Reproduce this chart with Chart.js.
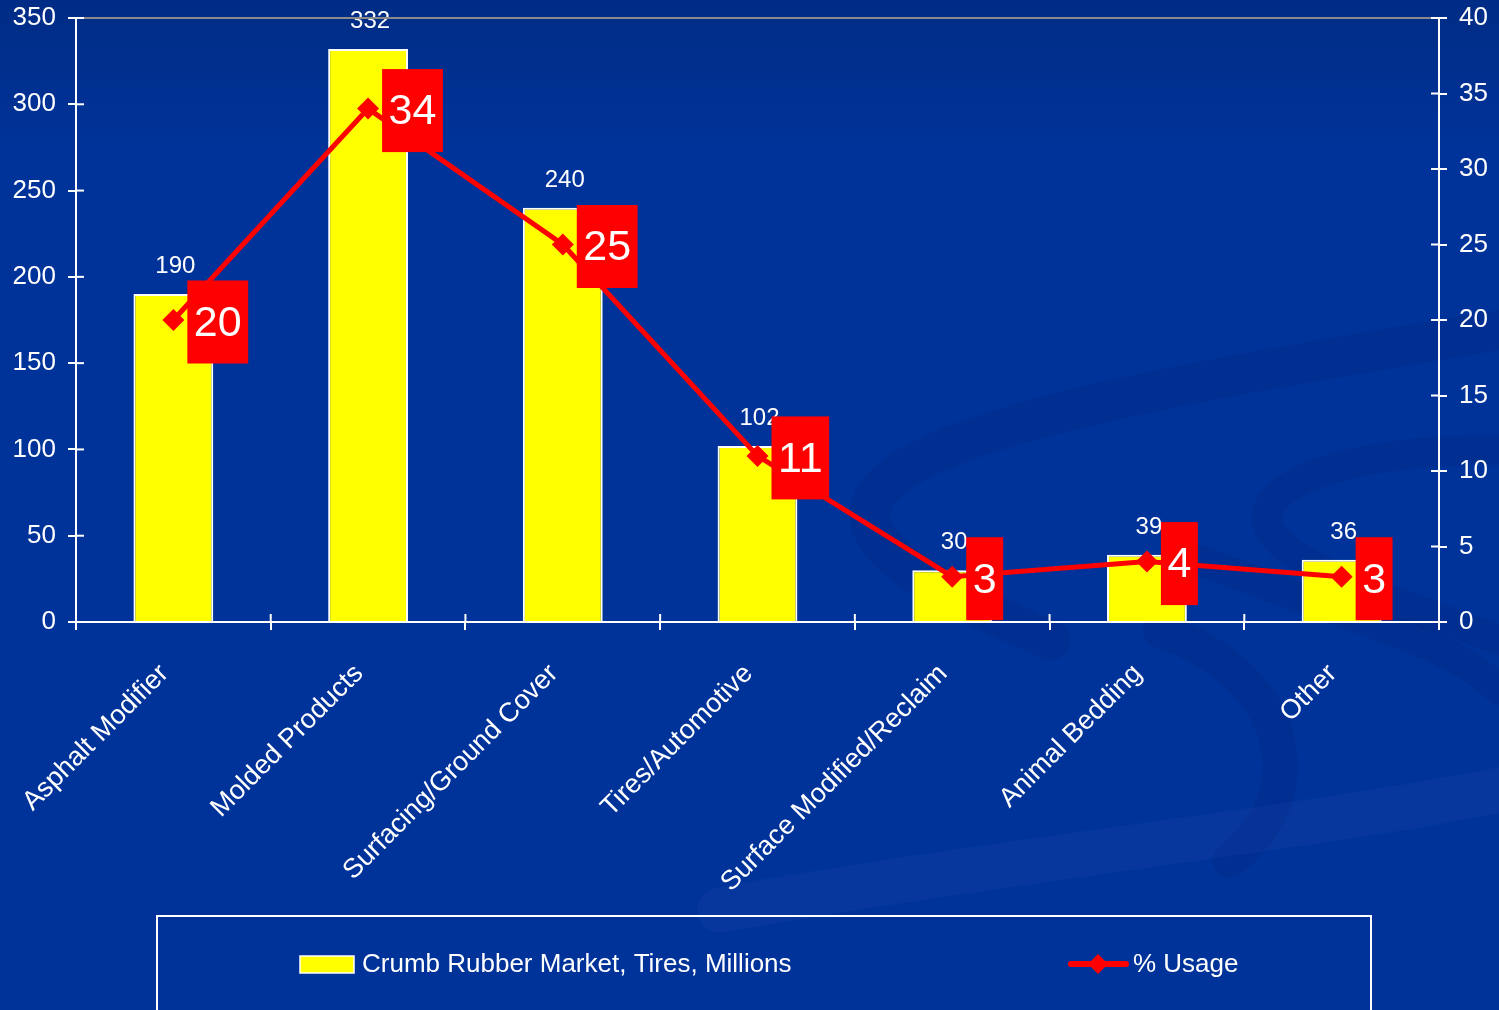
<!DOCTYPE html>
<html>
<head>
<meta charset="utf-8">
<script src="https://cdn.jsdelivr.net/npm/chart.js@4"></script>
<style>
  html, body { margin: 0; padding: 0; background: #003399; }
  #wrap { width: 1499px; height: 1010px; position: relative; }
</style>
</head>
<body>
<div id="wrap"><canvas id="c" width="1499" height="1010"></canvas></div>
<script>
const categories = ["Asphalt Modifier", "Molded Products", "Surfacing/Ground Cover", "Tires/Automotive", "Surface Modified/Reclaim", "Animal Bedding", "Other"];
const marketValues = [190, 332, 240, 102, 30, 39, 36];
const usageValues = [20, 34, 25, 11, 3, 4, 3];
const marketLabel = "Crumb Rubber Market, Tires, Millions";
const usageLabel = "% Usage";
const leftMax = 350, leftStep = 50;
const rightMax = 40, rightStep = 5;

const FONT = "'Liberation Sans', Arial, sans-serif";

const bgPlugin = {
  id: 'bg',
  beforeDraw(chart) {
    const ctx = chart.ctx, W = chart.width, H = chart.height;
    ctx.save();
    const g = ctx.createLinearGradient(0, 0, 0, H);
    g.addColorStop(0, '#002c85');
    g.addColorStop(0.15, '#003399');
    g.addColorStop(1, '#003399');
    ctx.fillStyle = g;
    ctx.fillRect(0, 0, W, H);
    ctx.lineCap = 'round';
    const dark = 'rgba(0,30,120,0.22)';
    const light = 'rgba(40,80,175,0.18)';
    ctx.strokeStyle = dark; ctx.lineWidth = 40;
    ctx.beginPath();
    ctx.moveTo(1499, 330);
    ctx.bezierCurveTo(1200, 380, 880, 430, 870, 510);
    ctx.bezierCurveTo(865, 560, 960, 600, 1050, 640);
    ctx.stroke();
    ctx.lineWidth = 30;
    ctx.beginPath();
    ctx.moveTo(1499, 450);
    ctx.bezierCurveTo(1330, 450, 1250, 490, 1270, 530);
    ctx.bezierCurveTo(1290, 570, 1420, 610, 1499, 640);
    ctx.stroke();
    ctx.lineWidth = 35;
    ctx.beginPath();
    ctx.moveTo(1160, 630);
    ctx.bezierCurveTo(1300, 680, 1310, 800, 1230, 860);
    ctx.stroke();
    ctx.strokeStyle = light; ctx.lineWidth = 45;
    ctx.beginPath();
    ctx.moveTo(720, 910);
    ctx.bezierCurveTo(1000, 860, 1300, 830, 1499, 790);
    ctx.stroke();
    ctx.strokeStyle = dark; ctx.lineWidth = 30;
    ctx.beginPath();
    ctx.moveTo(1200, 560);
    ctx.bezierCurveTo(1350, 620, 1450, 640, 1499, 690);
    ctx.stroke();
    ctx.restore();
  }
};

const decorPlugin = {
  id: 'decor',
  afterDraw(chart) {
    const ctx = chart.ctx;
    const { left, right, top, bottom } = chart.chartArea;
    ctx.save();
    ctx.strokeStyle = '#8a8a8a'; ctx.lineWidth = 2;
    ctx.beginPath(); ctx.moveTo(left + 8, top); ctx.lineTo(right - 8, top); ctx.stroke();
    ctx.strokeStyle = '#ffffff'; ctx.lineWidth = 2;
    const y = chart.scales.y, y2 = chart.scales.y2, x = chart.scales.x;
    y.ticks.forEach((t, i) => { const p = y.getPixelForTick(i); ctx.beginPath(); ctx.moveTo(left, p); ctx.lineTo(left + 8, p); ctx.stroke(); });
    y2.ticks.forEach((t, i) => { const p = y2.getPixelForTick(i); ctx.beginPath(); ctx.moveTo(right - 8, p); ctx.lineTo(right, p); ctx.stroke(); });
    const n = x.ticks.length;
    for (let i = 0; i <= n; i++) {
      const p = left + i * (right - left) / n;
      ctx.beginPath(); ctx.moveTo(p, bottom); ctx.lineTo(p, bottom - 8); ctx.stroke();
    }
    const ds = chart.data.datasets;
    const barDs = ds.find(d => d.type === 'bar');
    const lineDs = ds.find(d => d.type === 'line');
    ctx.strokeStyle = '#ffffff'; ctx.lineWidth = 2;
    ctx.strokeRect(157, 916, 1214, 140);
    ctx.font = '26px ' + FONT;
    ctx.textBaseline = 'middle'; ctx.textAlign = 'left';
    ctx.fillStyle = barDs.backgroundColor;
    ctx.fillRect(300, 956, 54, 17);
    ctx.strokeStyle = '#ffffff'; ctx.lineWidth = 1.5;
    ctx.strokeRect(300, 956, 54, 17);
    ctx.fillStyle = '#ffffff';
    ctx.fillText(barDs.label, 362, 965);
    ctx.strokeStyle = lineDs.borderColor; ctx.lineWidth = 6; ctx.lineCap = 'round';
    ctx.beginPath(); ctx.moveTo(1071, 964); ctx.lineTo(1126, 964); ctx.stroke();
    ctx.fillStyle = lineDs.borderColor;
    ctx.beginPath(); ctx.moveTo(1098, 954); ctx.lineTo(1108, 964); ctx.lineTo(1098, 974); ctx.lineTo(1088, 964); ctx.closePath(); ctx.fill();
    ctx.fillStyle = '#ffffff';
    ctx.fillText(lineDs.label, 1133, 965);
    ctx.restore();
  }
};

const labelPlugin = {
  id: 'labels',
  afterDatasetsDraw(chart) {
    const ctx = chart.ctx;
    ctx.save();
    chart.data.datasets.forEach((d, di) => {
      const meta = chart.getDatasetMeta(di);
      if (d.type === 'bar') {
        ctx.font = '24px ' + FONT;
        ctx.fillStyle = '#ffffff';
        ctx.textAlign = 'center'; ctx.textBaseline = 'alphabetic';
        meta.data.forEach((el, i) => {
          ctx.fillText(String(d.data[i]), el.x + 2, el.y - 21);
        });
      }
    });
    chart.data.datasets.forEach((d, di) => {
      const meta = chart.getDatasetMeta(di);
      if (d.type === 'line') {
        ctx.font = '43px ' + FONT;
        ctx.textAlign = 'center'; ctx.textBaseline = 'middle';
        meta.data.forEach((el, i) => {
          const txt = String(d.data[i]);
          const w = ctx.measureText(txt).width + 13;
          const h = 83;
          const bx = el.x + 14, by = el.y + 2 - h / 2;
          ctx.fillStyle = '#ff0000';
          ctx.fillRect(bx, by, w, h);
          ctx.fillStyle = '#ffffff';
          ctx.fillText(txt, bx + w / 2, el.y + 4);
        });
      }
    });
    ctx.restore();
  }
};

function noPad(s) { s.paddingTop = 0; s.paddingBottom = 0; s.paddingLeft = 0; s.paddingRight = 0; }

new Chart(document.getElementById('c'), {
  data: {
    labels: categories,
    datasets: [
      {
        type: 'line', label: usageLabel, data: usageValues, yAxisID: 'y2', order: 0,
        borderColor: '#ff0000', backgroundColor: '#ff0000', borderWidth: 5,
        pointStyle: 'rectRot', pointRadius: 11, pointBackgroundColor: '#ff0000', pointBorderWidth: 0,
        tension: 0
      },
      {
        type: 'bar', label: marketLabel, data: marketValues, yAxisID: 'y', order: 1,
        backgroundColor: '#ffff00', borderColor: '#ffffff', borderWidth: 2,
        barPercentage: 0.41, categoryPercentage: 1
      }
    ]
  },
  options: {
    responsive: false, animation: false,
    layout: { padding: { top: 18, left: 0, right: 0, bottom: 0 } },
    plugins: { legend: { display: false }, tooltip: { enabled: false } },
    scales: {
      x: {
        offset: true,
        grid: { display: true, drawOnChartArea: false, color: '#ffffff', lineWidth: 2, tickLength: 8, offset: true },
        border: { display: true, color: '#ffffff', width: 2 },
        ticks: { color: '#ffffff', font: { family: FONT, size: 27 }, maxRotation: 45, minRotation: 45, padding: 28, labelOffset: -9, autoSkip: false },
        afterFit(s) { s.height = 388; noPad(s); }
      },
      y: {
        position: 'left', min: 0, max: leftMax,
        grid: { display: true, drawOnChartArea: false, color: '#ffffff', lineWidth: 2, tickLength: 8 },
        border: { display: true, color: '#ffffff', width: 2 },
        ticks: { stepSize: leftStep, color: '#ffffff', font: { family: FONT, size: 26 }, padding: 12 },
        afterFit(s) { s.width = 76; noPad(s); }
      },
      y2: {
        position: 'right', min: 0, max: rightMax,
        grid: { display: true, drawOnChartArea: false, color: '#ffffff', lineWidth: 2, tickLength: 8 },
        border: { display: true, color: '#ffffff', width: 2 },
        ticks: { stepSize: rightStep, color: '#ffffff', font: { family: FONT, size: 26 }, padding: 12 },
        afterFit(s) { s.width = 60; noPad(s); }
      }
    }
  },
  plugins: [bgPlugin, labelPlugin, decorPlugin]
});
</script>
</body>
</html>
